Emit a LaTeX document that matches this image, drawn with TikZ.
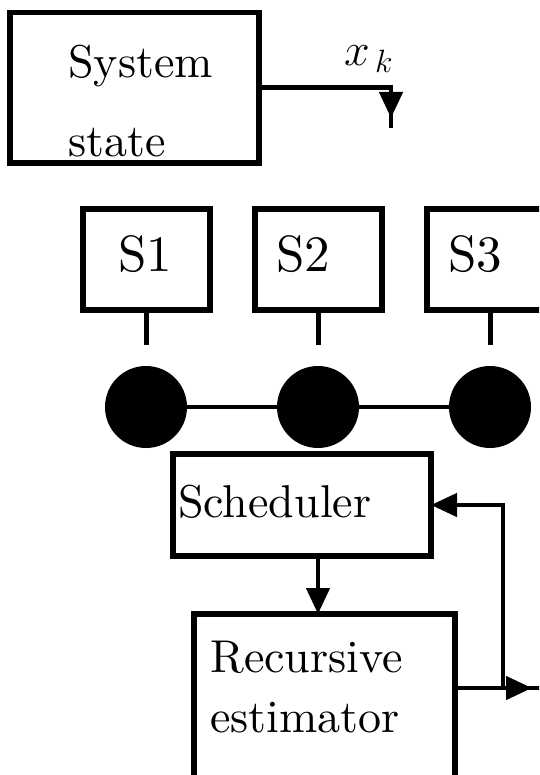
\RequirePackage{fix-cm}
\documentclass[tikz,border=0pt]{standalone}
\usepackage{fontspec}
\setmainfont{lmroman10-regular.otf}
\usetikzlibrary{arrows.meta}
\begin{document}
\begin{tikzpicture}[x=1pt,y=-1pt,
  box/.style={draw,line width=5.5pt,rectangle,inner sep=0pt,outer sep=0pt},
  wire/.style={line width=4.5pt},
  tip/.style={-{Triangle[length=26pt,width=23pt]}},
  txt/.style={inner sep=0pt,anchor=base west,font=\fontsize{46}{50}\selectfont},
  lbl/.style={inner sep=0pt,anchor=base west,font=\fontsize{51}{55}\selectfont},
  dot/.style={circle,fill=black,minimum size=82pt,inner sep=0pt,outer sep=0pt}]
\useasboundingbox (0,0) rectangle (539,775);
\clip (0,0) rectangle (539,775);

% system block and its output x_k
\node[box,minimum width=249pt,minimum height=150.5pt] (sys) at (134.5,87.75) {};
\node[txt] (sysA) at (68,78) {System};
\node[txt] (sysB) at (68,157) {state};
\coordinate (xkt) at (391,118);
\coordinate (xkm) at (391,108);
\coordinate (xke) at (391,128);
\draw[wire,tip] (sys.east) -| (xkt);
\draw[wire] (xkm) -- (xke);
\node[txt] (xk) at (344,66) {$x_{\,k}$};

% sensors
\node[box,minimum width=127pt,minimum height=101pt] (s1) at (146.5,259.5) {};
\node[box,minimum width=127pt,minimum height=101pt] (s2) at (318.5,259.5) {};
\node[box,minimum width=127pt,minimum height=101pt] (s3) at (490.5,259.5) {};
\node[lbl] (l1) at (118,272) {S1};
\node[lbl] (l2) at (276,272) {S2};
\node[lbl] (l3) at (448,272) {S3};
\coordinate (stubY) at (0,345);
\draw[wire] (s1.south) -- (s1.south |- stubY);
\draw[wire] (s2.south) -- (s2.south |- stubY);
\draw[wire] (s3.south) -- (s3.south |- stubY);

% network nodes
\node[dot] (c1) at (146,407) {};
\node[dot] (c2) at (318,407) {};
\node[dot] (c3) at (490,407) {};
\draw[wire] (c1) -- (c2) -- (c3);

% scheduler and estimator
\node[box,minimum width=258pt,minimum height=102pt] (sch) at (302,505) {};
\node[txt] (schT) at (178,517) {Scheduler};
\node[box,minimum width=261pt,minimum height=186pt] (est) at (324.5,707) {};
\node[txt] (estA) at (210,672) {Recursive};
\node[txt] (estB) at (210,732) {estimator};

\draw[wire,tip] (c2 |- sch.south) -- (c2 |- est.north);
\coordinate (junc) at (503,688);
\coordinate (outtip) at (532,688);
\coordinate (outmid) at (522,688);
\coordinate (outend) at (545,688);
\draw[wire,tip] (est.east |- junc) -- (outtip);
\draw[wire] (outmid) -- (outend);
\draw[wire,tip] (junc) |- (sch.east);
\end{tikzpicture}
\end{document}
